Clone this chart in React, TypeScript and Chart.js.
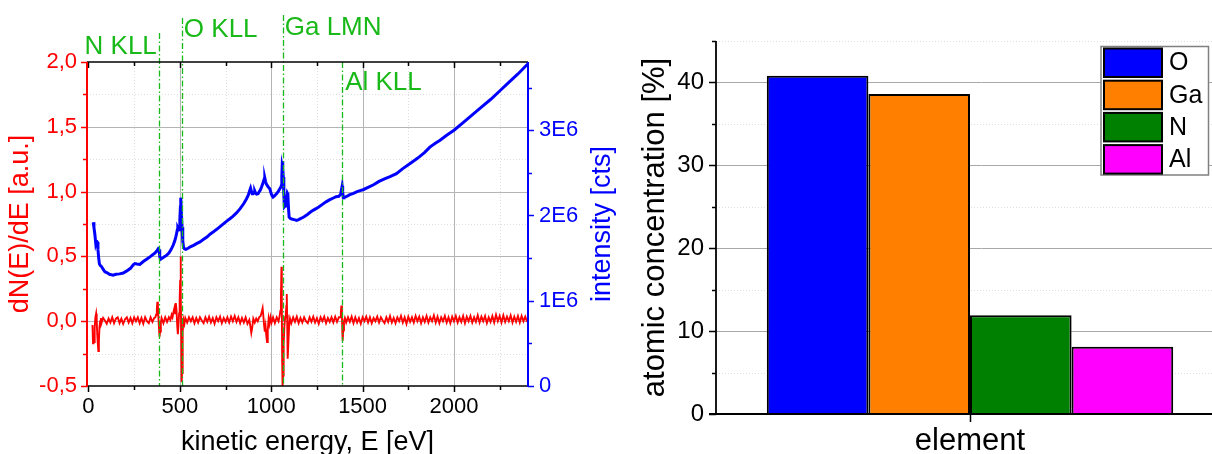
import React, { useEffect, useRef } from 'react';
import { Chart, registerables } from 'chart.js';

Chart.register(...registerables);

const FONT = '"Liberation Sans", Arial, sans-serif';

// ---------- left panel: Auger spectrum ----------
const xTickValues = [0, 500, 1000, 1500, 2000];
const xMinorValues = [250, 750, 1250, 1750, 2250];
const leftTickValues = [-0.5, 0, 0.5, 1.0, 1.5, 2.0];
const leftMinorValues = [-0.25, 0.25, 0.75, 1.25, 1.75];
const rightTickValues = [0, 1, 2, 3]; // in units of 1E6 counts
const rightMinorValues = [0.5, 1.5, 2.5, 3.5];

const lineEnergies = [385, 511, 1063, 1388];
const lineLabels = ['N KLL', 'O KLL', 'Ga LMN', 'Al KLL'];

// intensity N(E), in 1E6 counts
const blueEnergy = [
  26, 30, 35, 40, 44, 48, 52, 56, 60, 66, 72, 80, 90, 100, 115, 135, 150, 170, 190, 210,
  230, 245, 254, 265, 281, 300, 320, 340, 354, 366, 376, 382, 386, 390, 394, 405, 415, 427, 440, 452,
  463, 472, 478, 482, 486, 489, 493, 496, 500, 503, 505, 508, 512, 516, 520, 525, 533, 545, 560, 575,
  591, 610, 630, 650, 665, 682, 700, 720, 740, 760, 774, 790, 810, 830, 850, 865, 875, 882, 887, 892,
  896, 901, 906, 910, 915, 920, 928, 935, 941, 947, 953, 958, 962, 965, 969, 973, 978, 985, 992, 998,
  1004, 1010, 1018, 1029, 1038, 1047, 1052, 1055, 1058, 1060, 1062, 1064, 1066, 1069, 1072, 1076, 1080, 1084, 1088, 1091,
  1094, 1098, 1105, 1112, 1120, 1130, 1138, 1150, 1165, 1180, 1200, 1215, 1229, 1245, 1260, 1280, 1300, 1321, 1340, 1355,
  1370, 1375, 1380, 1384, 1388, 1391, 1394, 1397, 1410, 1430, 1450, 1470, 1490, 1503, 1530, 1560, 1590, 1620, 1650, 1685,
  1720, 1760, 1800, 1840, 1868, 1900, 1922, 1960, 2000, 2050, 2100, 2150, 2200, 2250, 2300, 2350, 2405,
];
const blueIntensity = [
  1.92, 1.86, 1.78, 1.67, 1.70, 1.69, 1.60, 1.50, 1.43, 1.41, 1.40, 1.37, 1.34, 1.33, 1.31, 1.30, 1.31, 1.315, 1.325, 1.35,
  1.38, 1.42, 1.435, 1.43, 1.427, 1.46, 1.49, 1.52, 1.544, 1.565, 1.59, 1.61, 1.60, 1.52, 1.485, 1.50, 1.515, 1.532, 1.56, 1.60,
  1.649, 1.70, 1.75, 1.787, 1.83, 1.857, 1.84, 1.834, 1.95, 2.10, 2.209, 2.05, 1.864, 1.70, 1.63, 1.61, 1.603, 1.615, 1.635, 1.65,
  1.669, 1.69, 1.72, 1.75, 1.78, 1.805, 1.835, 1.87, 1.905, 1.94, 1.962, 1.99, 2.03, 2.08, 2.14, 2.197, 2.24, 2.29, 2.321, 2.28,
  2.255, 2.255, 2.27, 2.286, 2.26, 2.25, 2.255, 2.28, 2.30, 2.333, 2.37, 2.40, 2.43, 2.439, 2.40, 2.37, 2.353, 2.33, 2.314, 2.27,
  2.235, 2.216, 2.23, 2.255, 2.28, 2.314, 2.33, 2.35, 2.45, 2.58, 2.638, 2.55, 2.45, 2.25, 2.10, 2.11, 2.157, 2.20, 2.263, 2.25,
  2.10, 1.981, 1.965, 1.958, 1.954, 1.948, 1.943, 1.952, 1.968, 1.985, 2.015, 2.04, 2.06, 2.08, 2.10, 2.13, 2.16, 2.185, 2.205, 2.22,
  2.225, 2.236, 2.25, 2.30, 2.345, 2.28, 2.21, 2.209, 2.22, 2.245, 2.26, 2.28, 2.295, 2.302, 2.33, 2.36, 2.40, 2.43, 2.455, 2.49,
  2.55, 2.61, 2.67, 2.74, 2.802, 2.85, 2.88, 2.94, 3.00, 3.09, 3.18, 3.27, 3.36, 3.46, 3.56, 3.66, 3.78,
];

// derivative dN(E)/dE, [energy, value]
const redSpectrum: [number, number][] = [
  [22, -0.03], [25, -0.17], [28, -0.12], [31, -0.16], [34, -0.05], [38, 0.03], [42, 0.06], [45, 0.01], [48, -0.1], [51, -0.17],
  [54, -0.23], [57, -0.16], [60, -0.05], [64, 0.0], [68, 0.025],
  [70, -0.02], [80, 0.025], [90, 0.005], [100, -0.02], [110, 0.02], [120, -0.01], [130, 0.03], [140, -0.015], [150, 0.02], [160, 0.03],
  [170, -0.015], [180, 0.02], [190, -0.02], [200, 0.015], [210, 0.03], [220, -0.01], [230, 0.025], [240, -0.015], [250, 0.03], [260, 0.0],
  [270, 0.03], [280, -0.015], [290, 0.025], [300, -0.02], [310, 0.03], [320, 0.0], [330, -0.015], [340, 0.03], [350, -0.005], [360, 0.025],
  [366, 0.03], [370, 0.05], [374, 0.09], [377, 0.15], [380, 0.11], [383, 0.02], [386, -0.06], [389, -0.12], [392, -0.08], [396, -0.01],
  [400, 0.025], [410, -0.015], [420, 0.03], [430, -0.005], [440, 0.03],
  [448, 0.01], [455, 0.05], [460, 0.03], [465, 0.07], [470, 0.1], [474, 0.06], [478, 0.14], [482, 0.08], [486, -0.04], [489, -0.1],
  [492, -0.04], [496, 0.06], [499, 0.16], [502, 0.32], [504, 0.5], [506, 0.2], [508, -0.15], [510, -0.47], [512, -0.4], [514, -0.22],
  [517, -0.08], [520, 0.01], [525, -0.02], [530, 0.025],
  [540, -0.01], [550, 0.03], [560, 0.0], [570, 0.03], [580, -0.015], [590, 0.025], [600, -0.01], [610, 0.03], [620, 0.005], [630, -0.015],
  [640, 0.03], [650, -0.005], [660, 0.035], [670, -0.01], [680, 0.025], [690, -0.02], [700, 0.03], [710, 0.0], [720, 0.035], [730, -0.015],
  [740, 0.025], [750, -0.005], [760, 0.03], [770, -0.01], [780, 0.035], [790, 0.0], [800, 0.04], [810, -0.005], [820, 0.03], [830, -0.015],
  [840, 0.025], [850, -0.01], [860, 0.03], [870, -0.02],
  [880, 0.01], [886, -0.04], [891, -0.09], [896, -0.05], [902, 0.02], [910, -0.01], [918, 0.02], [926, 0.0], [934, 0.03], [942, 0.04],
  [948, 0.07], [953, 0.1], [957, 0.04], [961, -0.03], [965, -0.08], [969, -0.04], [973, -0.11], [977, -0.16], [981, -0.07], [986, 0.02],
  [991, -0.02], [996, 0.03], [1002, -0.01], [1010, 0.03], [1020, -0.015], [1030, 0.03], [1040, 0.0], [1046, 0.04],
  [1050, 0.08], [1053, 0.18], [1056, 0.42], [1058, 0.15], [1060, -0.3], [1062, -0.5], [1065, -0.42], [1068, -0.18], [1072, -0.04], [1076, 0.03],
  [1080, 0.06], [1083, 0.12], [1085, 0.21], [1087, 0.05], [1089, -0.2], [1091, -0.29], [1094, -0.16], [1098, -0.04], [1103, 0.02],
  [1110, -0.015], [1120, 0.03], [1130, -0.005], [1140, 0.035], [1150, -0.015], [1160, 0.025], [1170, -0.01], [1180, 0.03], [1190, 0.0], [1200, -0.015],
  [1210, 0.03], [1220, -0.005], [1230, 0.035], [1240, -0.01], [1250, 0.025], [1260, -0.02], [1270, 0.03], [1280, 0.0], [1290, 0.035], [1300, -0.015],
  [1310, 0.025], [1320, -0.005], [1330, 0.03], [1340, -0.01], [1350, 0.035], [1360, -0.005], [1370, 0.03],
  [1377, 0.03], [1381, 0.07], [1384, 0.12], [1387, 0.04], [1389, -0.08], [1391, -0.15], [1394, -0.07], [1398, 0.0], [1403, 0.025],
  [1410, -0.01], [1420, 0.03], [1430, -0.005], [1440, 0.035], [1450, -0.015], [1460, 0.03], [1470, -0.01], [1480, 0.025], [1490, -0.02], [1500, 0.03],
  [1510, 0.0], [1520, 0.035], [1530, -0.01], [1540, 0.03], [1550, -0.015], [1560, 0.025], [1570, 0.0], [1580, 0.035], [1590, -0.01], [1600, 0.03],
  [1610, 0.005], [1620, -0.015], [1630, 0.03], [1640, -0.005], [1650, 0.04], [1660, -0.01], [1670, 0.025], [1680, -0.015], [1690, 0.03], [1700, 0.0],
  [1710, 0.04], [1720, -0.01], [1730, 0.03], [1740, -0.02], [1750, 0.035], [1760, -0.005], [1770, 0.03], [1780, -0.01], [1790, 0.04], [1800, 0.0],
  [1810, 0.035], [1820, -0.015], [1830, 0.03], [1840, -0.005], [1850, 0.04], [1860, -0.01], [1870, 0.03], [1880, 0.0], [1890, 0.045], [1900, -0.01],
  [1910, 0.035], [1920, -0.015], [1930, 0.03], [1940, 0.0], [1950, 0.04], [1960, -0.01], [1970, 0.03], [1980, -0.015], [1990, 0.035], [2000, 0.0],
  [2010, 0.04], [2020, -0.01], [2030, 0.03], [2040, -0.005], [2050, 0.04], [2060, -0.015], [2070, 0.035], [2080, 0.0], [2090, 0.04], [2100, -0.01],
  [2110, 0.03], [2120, -0.005], [2130, 0.045], [2140, -0.01], [2150, 0.035], [2160, 0.0], [2170, 0.04], [2180, -0.015], [2190, 0.03], [2200, -0.005],
  [2210, 0.04], [2220, -0.01], [2230, 0.05], [2240, 0.0], [2250, 0.04], [2260, -0.01], [2270, 0.045], [2280, -0.005], [2290, 0.035], [2300, 0.0],
  [2310, 0.045], [2320, -0.01], [2330, 0.035], [2340, -0.005], [2350, 0.04], [2360, -0.01], [2370, 0.04], [2380, 0.0], [2390, 0.035], [2400, -0.005],
];

// ---------- right panel: atomic concentration ----------
const elements = ['O', 'Ga', 'N', 'Al'];
const concentrations = [40.8, 38.6, 11.9, 8.1];
const barColors = ['#0000ff', '#ff8000', '#008000', '#ff00ff'];
const barTickValues = [0, 10, 20, 30, 40];
const barMinorValues = [5, 15, 25, 35, 45];

const GREEN = '#19b919';

function vline(ctx: CanvasRenderingContext2D, x: number, y1: number, y2: number) {
  ctx.beginPath();
  ctx.moveTo(x, y1);
  ctx.lineTo(x, y2);
  ctx.stroke();
}
function hline(ctx: CanvasRenderingContext2D, y: number, x1: number, x2: number) {
  ctx.beginPath();
  ctx.moveTo(x1, y);
  ctx.lineTo(x2, y);
  ctx.stroke();
}

const leftDecor = {
  id: 'leftDecor',
  beforeDatasetsDraw(chart: any) {
    const { ctx, chartArea: a, scales } = chart;
    const x = scales.x, y = scales.y;
    ctx.save();
    ctx.lineWidth = 1;
    ctx.strokeStyle = '#dedede';
    ctx.setLineDash([1, 2]);
    xMinorValues.forEach((v) => vline(ctx, Math.round(x.getPixelForValue(v)) + 0.5, a.top, a.bottom));
    leftMinorValues.forEach((v) => hline(ctx, Math.round(y.getPixelForValue(v)) + 0.5, a.left, a.right));
    ctx.setLineDash([]);
    ctx.strokeStyle = '#b4b4b4';
    xTickValues.forEach((v) => { if (v > 0) vline(ctx, Math.round(x.getPixelForValue(v)) + 0.5, a.top, a.bottom); });
    leftTickValues.forEach((v) => { if (v > -0.5 && v < 2) hline(ctx, Math.round(y.getPixelForValue(v)) + 0.5, a.left, a.right); });
    ctx.restore();
  },
  afterDatasetsDraw(chart: any) {
    const { ctx, chartArea: a, scales } = chart;
    const x = scales.x, y = scales.y, y2 = scales.y2;
    ctx.save();
    // dash-dot marker lines and labels
    const tops = [33, 18, 15, a.top];
    ctx.strokeStyle = GREEN;
    ctx.lineWidth = 1.3;
    ctx.setLineDash([6, 2.5, 1.5, 2.5]);
    lineEnergies.forEach((e, i) => {
      const px = Math.round(x.getPixelForValue(e)) + 0.5;
      vline(ctx, px, tops[i], a.bottom);
    });
    ctx.setLineDash([]);
    ctx.fillStyle = GREEN;
    ctx.font = `26px ${FONT}`;
    ctx.textBaseline = 'alphabetic';
    const baselines = [54, 37, 35, 90];
    lineEnergies.forEach((e, i) => {
      const px = x.getPixelForValue(e);
      if (i === 0) {
        ctx.textAlign = 'right';
        ctx.fillText(lineLabels[i], px - 2, baselines[i]);
      } else {
        ctx.textAlign = 'left';
        ctx.fillText(lineLabels[i], px + (i === 3 ? 3 : 2), baselines[i]);
      }
    });
    // axes
    ctx.lineWidth = 1.5;
    ctx.strokeStyle = '#000';
    hline(ctx, a.top, a.left, a.right);
    hline(ctx, a.bottom, a.left, a.right);
    xTickValues.forEach((v) => {
      const px = Math.round(x.getPixelForValue(v)) + 0.5;
      vline(ctx, px, a.top, a.top + 6);
      vline(ctx, px, a.bottom, a.bottom + 6);
    });
    xMinorValues.forEach((v) => {
      const px = Math.round(x.getPixelForValue(v)) + 0.5;
      vline(ctx, px, a.top, a.top + 4);
      vline(ctx, px, a.bottom, a.bottom + 4);
    });
    ctx.lineWidth = 2;
    ctx.strokeStyle = '#ff0000';
    vline(ctx, a.left, a.top, a.bottom + 1);
    ctx.lineWidth = 1.5;
    leftTickValues.forEach((v) => hline(ctx, Math.round(y.getPixelForValue(v)) + 0.5, a.left - 6, a.left));
    leftMinorValues.forEach((v) => hline(ctx, Math.round(y.getPixelForValue(v)) + 0.5, a.left - 4, a.left));
    ctx.lineWidth = 2;
    ctx.strokeStyle = '#0000ff';
    vline(ctx, a.right, a.top, a.bottom + 1);
    ctx.lineWidth = 1.5;
    rightTickValues.forEach((v) => hline(ctx, Math.round(y2.getPixelForValue(v)) + 0.5, a.right, a.right + 6));
    rightMinorValues.forEach((v) => hline(ctx, Math.round(y2.getPixelForValue(v)) + 0.5, a.right, a.right + 4));
    // right axis title (reads bottom to top)
    ctx.save();
    ctx.translate(603, (a.top + a.bottom) / 2);
    ctx.rotate(-Math.PI / 2);
    ctx.fillStyle = '#0000ff';
    ctx.font = `27px ${FONT}`;
    ctx.textAlign = 'center';
    ctx.textBaseline = 'middle';
    ctx.fillText('intensity [cts]', 0, 0);
    ctx.restore();
    ctx.restore();
  },
};

const rightDecor = {
  id: 'rightDecor',
  beforeDatasetsDraw(chart: any) {
    const { ctx, chartArea: a, scales, width } = chart;
    const y = scales.y;
    ctx.save();
    ctx.lineWidth = 1;
    ctx.strokeStyle = '#dedede';
    ctx.setLineDash([1, 2]);
    barMinorValues.forEach((v) => hline(ctx, Math.round(y.getPixelForValue(v)) + 0.5, a.left, width));
    ctx.setLineDash([]);
    ctx.strokeStyle = '#a8a8a8';
    barTickValues.forEach((v) => { if (v > 0) hline(ctx, Math.round(y.getPixelForValue(v)) + 0.5, a.left, width); });
    ctx.restore();
  },
  afterDatasetsDraw(chart: any) {
    const { ctx, chartArea: a, scales, width, data } = chart;
    const x = scales.x, y = scales.y;
    ctx.save();
    ctx.strokeStyle = '#000';
    ctx.lineWidth = 1.8;
    vline(ctx, a.left, a.top, a.bottom + 1);
    hline(ctx, a.bottom, a.left - 7, width);
    ctx.lineWidth = 1.5;
    barTickValues.forEach((v) => hline(ctx, Math.round(y.getPixelForValue(v)) + 0.5, a.left - 7, a.left));
    barMinorValues.forEach((v) => hline(ctx, Math.round(y.getPixelForValue(v)) + 0.5, a.left - 4, a.left));
    vline(ctx, Math.round(x.getPixelForValue(0)) + 0.5, a.bottom, a.bottom + 8);
    // legend
    const bx = 474, by = 46.5, bw = 107.5, bh = 128.5;
    ctx.fillStyle = '#fff';
    ctx.fillRect(bx, by, bw, bh);
    ctx.strokeStyle = '#808080';
    ctx.lineWidth = 1.5;
    ctx.strokeRect(bx, by, bw, bh);
    ctx.font = `25px ${FONT}`;
    ctx.textAlign = 'left';
    ctx.textBaseline = 'middle';
    data.datasets.forEach((ds: any, i: number) => {
      const sy = by + 2 + i * 32.2;
      ctx.fillStyle = ds.backgroundColor;
      ctx.fillRect(bx + 3, sy, 58, 28.5);
      ctx.strokeStyle = '#000';
      ctx.lineWidth = 2;
      ctx.strokeRect(bx + 3, sy, 58, 28.5);
      ctx.fillStyle = '#000';
      ctx.fillText(ds.label, bx + 68, sy + 15);
    });
    ctx.restore();
  },
};

function setTicks(values: number[]) {
  return (scale: any) => {
    scale.ticks = values.map((v) => ({ value: v }));
  };
}

export default function App() {
  const leftRef = useRef<HTMLCanvasElement>(null);
  const rightRef = useRef<HTMLCanvasElement>(null);

  useEffect(() => {
    const left = new Chart(leftRef.current as HTMLCanvasElement, {
      type: 'line',
      data: {
        datasets: [
          {
            label: 'intensity',
            data: blueEnergy.map((e, i) => ({ x: e, y: blueIntensity[i] })),
            yAxisID: 'y2',
            borderColor: '#0000ff',
            borderWidth: 3,
            pointRadius: 0,
            tension: 0,
          },
          {
            label: 'dN(E)/dE',
            data: redSpectrum.map(([e, v]) => ({ x: e, y: v })),
            yAxisID: 'y',
            borderColor: '#ff0000',
            borderWidth: 1.9,
            pointRadius: 0,
            tension: 0,
          },
        ],
      },
      options: {
        animation: false,
        responsive: false,
        layout: { padding: { top: 62, left: 0, right: 0, bottom: 0 } },
        plugins: { legend: { display: false }, tooltip: { enabled: false } },
        scales: {
          x: {
            type: 'linear',
            min: -8,
            max: 2405,
            afterBuildTicks: setTicks(xTickValues),
            afterFit: (s: any) => { s.height = 68; },
            grid: { display: false, drawTicks: false },
            border: { display: false },
            ticks: { color: '#000', font: { size: 22, family: FONT }, padding: 8, maxRotation: 0, autoSkip: false, callback: (v: any) => String(v) },
            title: { display: true, text: 'kinetic energy, E [eV]', color: '#000', font: { size: 27, family: FONT }, padding: { top: 0, bottom: -5 } },
          },
          y: {
            position: 'left',
            min: -0.5,
            max: 2.0,
            afterBuildTicks: setTicks(leftTickValues),
            afterFit: (s: any) => { s.width = 87; },
            grid: { display: false, drawTicks: false },
            border: { display: false },
            ticks: { color: '#ff0000', font: { size: 22, family: FONT }, padding: 10, autoSkip: false, callback: (v: any) => Number(v).toFixed(1).replace('.', ',') },
            title: { display: true, text: 'dN(E)/dE [a.u.]', color: '#ff0000', font: { size: 27, family: FONT }, padding: { top: 4, bottom: 0 } },
          },
          y2: {
            position: 'right',
            min: 0,
            max: 3.8,
            afterBuildTicks: setTicks(rightTickValues),
            afterFit: (s: any) => { s.width = 97; },
            grid: { display: false, drawTicks: false },
            border: { display: false },
            ticks: { color: '#0000ff', font: { size: 22, family: FONT }, padding: 11, autoSkip: false, callback: (v: any) => (Number(v) === 0 ? '0' : `${v}E6`) },
          },
        },
      },
      plugins: [leftDecor],
    } as any);

    const right = new Chart(rightRef.current as HTMLCanvasElement, {
      type: 'bar',
      data: {
        labels: ['element'],
        datasets: elements.map((el, i) => ({
          label: el,
          data: [concentrations[i]],
          backgroundColor: barColors[i],
          borderColor: '#000',
          borderWidth: 2,
          categoryPercentage: 0.8,
          barPercentage: 1,
        })),
      },
      options: {
        animation: false,
        responsive: false,
        layout: { padding: { top: 41, left: 0, right: 23, bottom: 0 } },
        plugins: { legend: { display: false }, tooltip: { enabled: false } },
        scales: {
          x: {
            grid: { display: false, drawTicks: false },
            border: { display: false },
            ticks: { display: false },
            afterFit: (s: any) => { s.height = 40; },
            title: { display: true, text: 'element', color: '#000', font: { size: 31, family: FONT }, padding: { top: 0, bottom: -6 } },
          },
          y: {
            min: 0,
            max: 45,
            afterBuildTicks: setTicks(barTickValues),
            afterFit: (s: any) => { s.width = 89; },
            grid: { display: false, drawTicks: false },
            border: { display: false },
            ticks: { color: '#000', font: { size: 24, family: FONT }, padding: 12, autoSkip: false },
            title: { display: true, text: 'atomic concentration [%]', color: '#000', font: { size: 31, family: FONT }, padding: { top: 10, bottom: 0 } },
          },
        },
      },
      plugins: [rightDecor],
    } as any);

    return () => {
      left.destroy();
      right.destroy();
    };
  }, []);

  return (
    <div style={{ position: 'fixed', left: 0, top: 0, width: 1212, height: 454, overflow: 'hidden', background: '#fff' }}>
      <canvas ref={leftRef} width={625} height={454} style={{ position: 'absolute', left: 0, top: 0, width: 625, height: 454 }} />
      <canvas ref={rightRef} width={620} height={454} style={{ position: 'absolute', left: 627, top: 0, width: 620, height: 454 }} />
    </div>
  );
}
